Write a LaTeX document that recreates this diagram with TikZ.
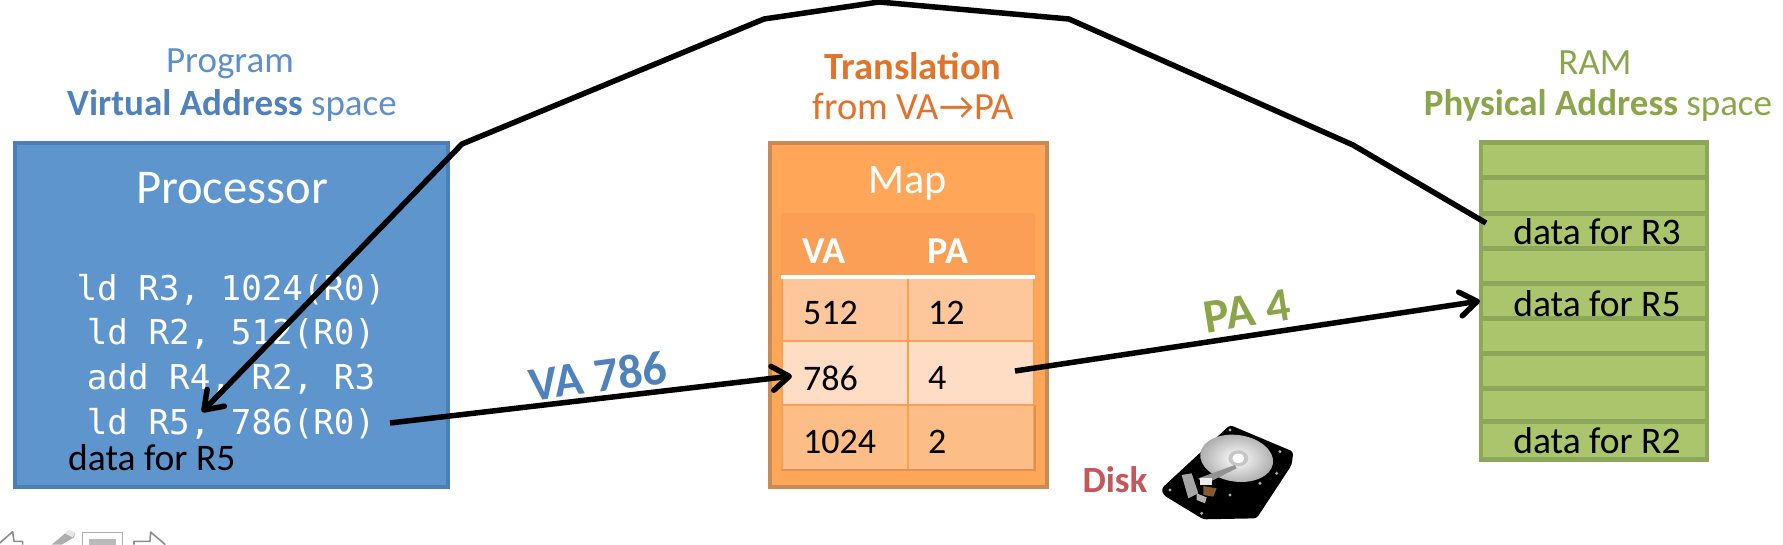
\documentclass[tikz,border=0pt]{standalone}
\usepackage{fontspec}
\setmainfont{Carlito}
\newfontfamily\codefont{DejaVu Sans Mono}
\usetikzlibrary{arrows.meta}
\definecolor{blueFill}{HTML}{5E95CC}
\definecolor{blueEdge}{HTML}{4A7FB8}
\definecolor{blueText}{HTML}{4F81BD}
\definecolor{blueLight}{HTML}{5F8FCB}
\definecolor{orFill}{HTML}{FFA658}
\definecolor{orEdge}{HTML}{C98B55}
\definecolor{orHead}{HTML}{FB9F56}
\definecolor{orLine}{HTML}{F9A057}
\definecolor{orRowA}{HTML}{FDC79B}
\definecolor{orRowB}{HTML}{FEDDC4}
\definecolor{orRowC}{HTML}{FDBD86}
\definecolor{orText}{HTML}{E4732A}
\definecolor{grFill}{HTML}{AAC56B}
\definecolor{grEdge}{HTML}{8CA65A}
\definecolor{grText}{HTML}{8BA64A}
\definecolor{diskRed}{HTML}{C5575A}
\definecolor{iconGrey}{HTML}{8C8C8C}
\tikzset{
  txt/.style={inner sep=0pt,font=\fontsize{#1}{#1}\selectfont},
  code/.style={inner sep=0pt,text=white,font=\codefont\fontsize{34.2}{36}\selectfont},
  cell/.style={inner sep=0pt,draw=orLine,line width=1.5pt,minimum width=#1,minimum height=64pt},
  slot/.style={inner sep=0pt,draw=grEdge,fill=grFill,line width=4.5pt,minimum width=226pt,minimum height=35pt},
  conn/.style={draw=black,line width=5.5pt,line join=round},
  tip/.style={-{Straight Barb[length=17pt,width=24pt,line width=5.5pt,round]}}
}
\begin{document}
\begin{tikzpicture}[x=1pt,y=-1pt]
\useasboundingbox (0,0) rectangle (1783,544);
\clip (0,0) rectangle (1783,544);
% headings
\node[txt=37,text=blueLight] (h1a) at (230,64) {Program};
\node[txt=37,text=blueLight] (h1b) at (232,105) {\textcolor{blueText}{\textbf{Virtual Address}} space};
\node[txt=38.5,text=orText] (h2a) at (913,66) {\textbf{Translation}};
\node[txt=38.5,text=orText] (h2b) at (913,106) {from VA→PA};
\node[txt=37,text=grText] (h3a) at (1595,63) {RAM};
\node[txt=37,text=grText] (h3b) at (1598,105) {\textbf{Physical Address} space};
% processor
\node[draw=blueEdge,fill=blueFill,line width=4pt,inner sep=0pt,minimum width=433pt,minimum height=344pt] (proc) at (231.5,315) {};
\node[txt=48.5,text=white] (proctitle) at (232,188) {Processor};
\node[code] (c1) at (231,290) {ld R3, 1024(R0)};
\node[code] (c2) at (231,334) {ld R2, 512(R0)};
\node[code] (c3) at (231,379) {add R4, R2, R3};
\node[code] (c4) at (231,424) {ld R5, 786(R0)};
\node[txt=37.5,text=black,anchor=west] (datap) at (68,458) {data for R5};
% map
\node[draw=orEdge,fill=orFill,line width=4pt,inner sep=0pt,minimum width=277pt,minimum height=344pt] (map) at (908,315) {};
\node[txt=42,text=white] (maptitle) at (908,183) {Map};
\fill[orHead] (782,214) rectangle (1034,278);
\draw[orLine,line width=1.5pt] (782,214) rectangle (1034,278);
\node[cell=126pt,fill=orRowA] (a1) at (845,310) {};
\node[cell=126pt,fill=orRowA] (b1) at (971,310) {};
\node[cell=126pt,fill=orRowB] (a2) at (845,373) {};
\node[cell=126pt,fill=orRowB] (b2) at (971,373) {};
\node[cell=126pt,fill=orRowC] (a3) at (845,437.5) {};
\node[cell=126pt,fill=orRowC] (b3) at (971,437.5) {};
\draw[white,line width=4pt] (a1.north west) -- (b1.north east);
\draw[orEdge!70!orFill,line width=2pt] (a3.south west) -- (b3.south east) -- (b3.north east);
\node[txt=38,text=white,anchor=center] (hva) at (824,251) {\textbf{VA}};
\node[txt=38,text=white,anchor=center] (hpa) at (948,251) {\textbf{PA}};
\node[txt=36,anchor=west] (t1) at (803,313) {512};
\node[txt=36,anchor=west] (t2) at (928,313) {12};
\node[txt=36,anchor=west] (t3) at (803,378) {786};
\node[txt=36,anchor=west] (t4) at (928,378) {4};
\node[txt=36,anchor=west] (t5) at (803,442) {1024};
\node[txt=36,anchor=west] (t6) at (928,442) {2};
% RAM
\node[slot] (s1) at (1594,160) {};
\node[slot] (s2) at (1594,195.5) {};
\node[slot] (s3) at (1594,231) {};
\node[slot] (s4) at (1594,266) {};
\node[slot] (s5) at (1594,301) {};
\node[slot] (s6) at (1594,336) {};
\node[slot] (s7) at (1594,371) {};
\node[slot] (s8) at (1594,406) {};
\node[slot,minimum height=38pt] (s9) at (1594,440.5) {};
\node[txt=37.5] (dr3) at (1597,232) {data for R3};
\node[txt=37.5] (dr5) at (1597,304) {data for R5};
\node[txt=37.5] (dr2) at (1597,441) {data for R2};
% labels on arrows
\node[txt=48,text=blueText,rotate=7.5] (lva) at (598,376) {\textbf{VA 786}};
\node[txt=48,text=grText,rotate=9] (lpa) at (1247,311) {\textbf{PA 4}};
\node[txt=37,text=diskRed] (ldisk) at (1115,480) {\textbf{Disk}};
% disk
\begin{scope}[shift={(1060,410)},x=0.3333pt,y=-0.3333pt]
\fill[black,rounded corners=3pt] (510,45) -- (700,125) -- (695,165) -- (590,325) -- (430,328) -- (310,255) -- (305,235) -- cycle;
\shade[inner color=white,outer color=gray!65,rotate around={-8:(530,145)}] (530,145) ellipse (110 and 70);
\fill[gray!45] (535,145) ellipse (30 and 24);
\fill[white] (535,145) ellipse (18 and 14);
\fill[gray!85] (415,205) -- (525,165) -- (530,175) -- (430,225) -- cycle;
\fill[gray!70] (365,195) -- (395,190) -- (415,250) -- (385,265) -- cycle;
\fill[white!85!gray] (420,205) rectangle (455,225);
\fill[brown!70!black] (430,228) -- (470,235) -- (460,260) -- (430,255) -- cycle;
\fill[gray!60] (410,250) -- (440,262) -- (435,280) -- (410,270) -- cycle;
\foreach \dotx/\doty in {510/60,660/125,600/220,510/255,330/240,425/310,650/190}
  \fill[gray!65] (\dotx,\doty) circle (5);
\end{scope}
% toolbar icons
\begin{scope}[shift={(0,510)},x=0.3333pt,y=-0.3333pt]
\draw[iconGrey,line width=1.6pt,line join=round] (-4,102) -- (38,65) -- (42,94) -- (68,94) -- (68,104);
\fill[iconGrey!70] (155,104) -- (205,62) -- (225,68) -- (222,82) -- (185,104) -- cycle;
\fill[iconGrey!20] (195,70) -- (208,60) -- (225,68) -- (218,82) -- cycle;
\draw[iconGrey!70,line width=1.6pt] (247,104) -- (247,68) -- (367,68) -- (367,104);
\fill[iconGrey!60] (268,88) rectangle (348,104);
\draw[iconGrey,line width=1.6pt,line join=round] (402,104) -- (402,94) -- (450,94) -- (452,66) -- (496,104);
\end{scope}
% connectors
\coordinate (vaStart) at (390,423);
\coordinate (vaEnd) at (792,376);
\coordinate (paStart) at (1015,371);
\coordinate (paEnd) at (1480,301);
\coordinate (r3) at (1486,223);
\coordinate (k1) at (1353,145);
\coordinate (k2) at (1069,19);
\coordinate (k3) at (879,2);
\coordinate (k4) at (764,19);
\coordinate (k5) at (462,144);
\coordinate (regR5) at (202,412);
\draw[conn,tip] (vaStart) -- (vaEnd);
\draw[conn,tip] (paStart) -- (paEnd);
\draw[conn,tip] (r3) -- (k1) -- (k2) -- (k3) -- (k4) -- (k5) -- (regR5);
\end{tikzpicture}
\end{document}
